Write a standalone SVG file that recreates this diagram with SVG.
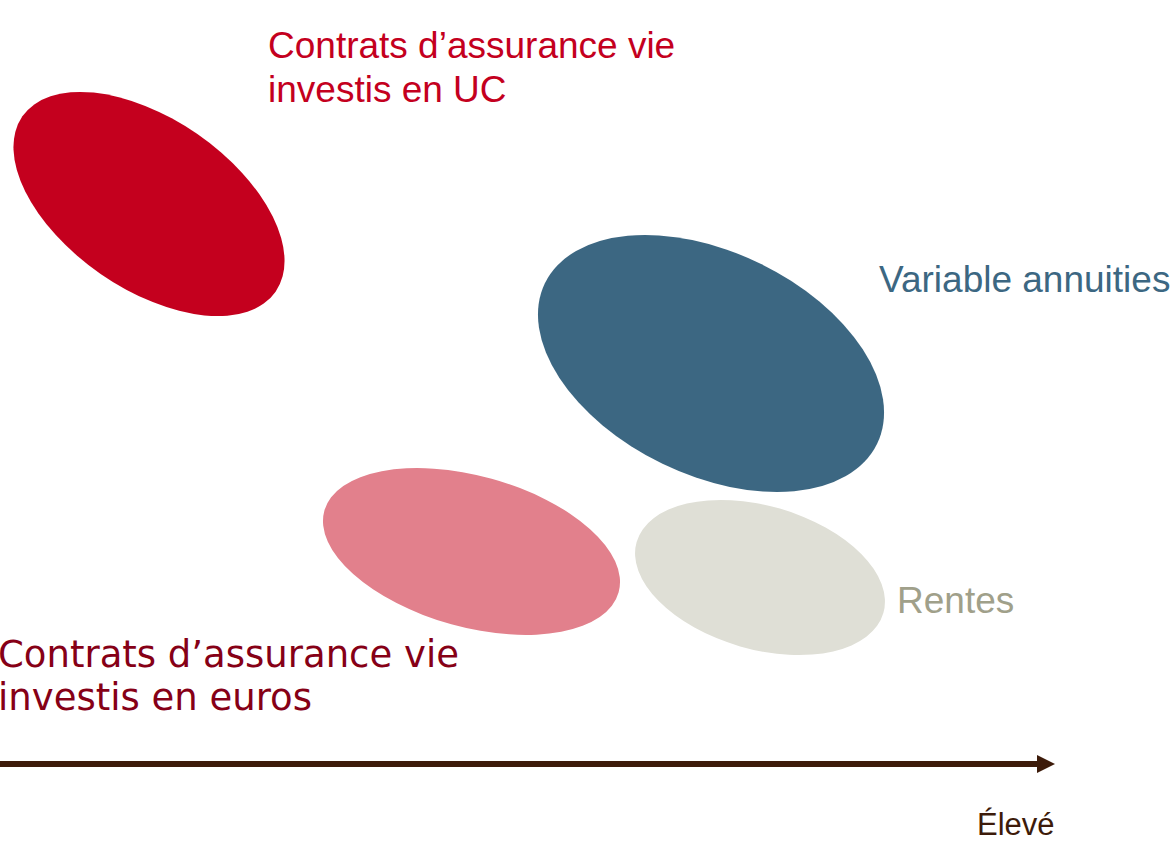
<svg xmlns="http://www.w3.org/2000/svg" width="1174" height="841" viewBox="0 0 1174 841">
<style>
.sans{font-family:"Liberation Sans",Arial,sans-serif;font-size:37px}
.verd{font-family:"DejaVu Sans",Verdana,sans-serif;font-size:37px}
</style>
<defs>
<marker id="arrow" markerUnits="userSpaceOnUse" markerWidth="20" markerHeight="20" refX="0" refY="9" orient="auto">
<path d="M0,0 L18,9 L0,18 Z" fill="#3D1B0A"/>
</marker>
</defs>
<rect width="1174" height="841" fill="#FFFFFF"/>
<g id="uc">
<ellipse cx="149" cy="204" rx="154" ry="85" transform="rotate(34.7 149 204)" fill="#C4001E"/>
<text class="sans" fill="#C4001E"><tspan x="268" y="58">Contrats d’assurance vie</tspan><tspan x="268" y="102">investis en UC</tspan></text>
</g>
<g id="variable-annuities">
<ellipse cx="711" cy="363.5" rx="184.5" ry="111.4" transform="rotate(25.8 711 363.5)" fill="#3C6782"/>
<text class="sans" x="879" y="292" fill="#3C6782">Variable annuities</text>
</g>
<g id="euros">
<ellipse cx="471.5" cy="551.5" rx="152.7" ry="75.5" transform="rotate(15.5 471.5 551.5)" fill="#E2808C"/>
<text class="verd" fill="#860016"><tspan x="-2" y="667">Contrats d’assurance vie</tspan><tspan x="-2" y="710">investis en euros</tspan></text>
</g>
<g id="rentes">
<ellipse cx="760" cy="577.5" rx="128.4" ry="71.7" transform="rotate(16.1 760 577.5)" fill="#DFDFD6"/>
<text class="sans" x="897" y="613" fill="#A0A08A">Rentes</text>
</g>
<g id="connectors">
<line x1="0" y1="764" x2="1037" y2="764" stroke="#3D1B0A" stroke-width="6" marker-end="url(#arrow)"/>
</g>
<g id="axis-label">
<text class="sans" x="977" y="835" style="font-size:31px" fill="#3D1B0A">Élevé</text>
</g>
</svg>
